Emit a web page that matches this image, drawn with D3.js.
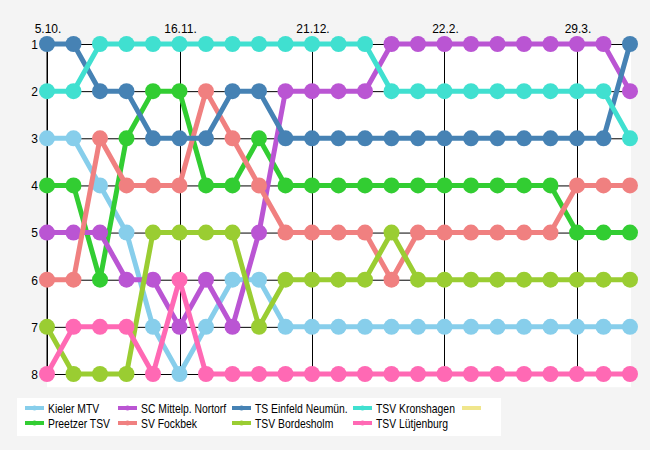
<!DOCTYPE html>
<html>
<head>
<meta charset="utf-8">
<script src="https://cdn.jsdelivr.net/npm/d3@7"></script>
<style>
  body { margin: 0; background: #f4f4f4; }
  svg { display: block; font-family: Arial, "Liberation Sans", sans-serif; }
</style>
</head>
<body>
<div id="chart-area"></div>
<script>
// rank tables, one value per round (23 rounds)
const teams = ['Kieler MTV', 'Preetzer TSV', 'SC Mittelp. Nortorf', 'SV Fockbek',
    'TS Einfeld Neumün.', 'TSV Bordesholm', 'TSV Kronshagen', 'TSV Lütjenburg', '']
const kielerMTV   = [3,3,4,5,7,8,7,6,6,7,7,7,7,7,7,7,7,7,7,7,7,7,7]
const preetzerTSV = [4,4,6,3,2,2,4,4,3,4,4,4,4,4,4,4,4,4,4,4,5,5,5]
const scNortorf   = [5,5,5,6,6,7,6,7,5,2,2,2,2,1,1,1,1,1,1,1,1,1,2]
const svFockbek   = [6,6,3,4,4,4,2,3,4,5,5,5,5,6,5,5,5,5,5,5,4,4,4]
const tsEinfeld   = [1,1,2,2,3,3,3,2,2,3,3,3,3,3,3,3,3,3,3,3,3,3,1]
const tsvBordesholm = [7,8,8,8,5,5,5,5,7,6,6,6,6,5,6,6,6,6,6,6,6,6,6]
const tsvKronshagen = [2,2,1,1,1,1,1,1,1,1,1,1,1,2,2,2,2,2,2,2,2,2,3]
const tsvLuetjenburg = [8,7,7,7,8,6,8,8,8,8,8,8,8,8,8,8,8,8,8,8,8,8,8]
const emptySeries = []
const ranks = [1,2,3,4,5,6,7,8]
const tickRounds = [0, 5, 10, 15, 20]
const tickLabels = ['5.10.', '16.11.', '21.12.', '22.2.', '29.3.']

const colors = ['#87CEEB', '#32CD32', '#BA55D3', '#F08080', '#4682B4',
    '#9ACD32', '#40E0D0', '#FF69B4', '#F0E68C']
const series = [kielerMTV, preetzerTSV, scNortorf, svFockbek, tsEinfeld,
    tsvBordesholm, tsvKronshagen, tsvLuetjenburg, emptySeries]

const canvas = { width: 650, height: 450 }
const plot = { left: 47, right: 630, top: 44, bottom: 374 }

let svg = d3.select('#chart-area')
    .append('svg')
    .attr('width', canvas.width)
    .attr('height', canvas.height)

svg.append('rect')
    .attr('width', canvas.width).attr('height', canvas.height)
    .attr('fill', '#f4f4f4')

let x = d3.scaleLinear()
    .domain([0, kielerMTV.length - 1])
    .range([plot.left, plot.right])

let y = d3.scaleLinear()
    .domain([1, 8])
    .range([plot.top, plot.bottom])

// white plot area
svg.append('rect')
    .attr('x', plot.left).attr('y', plot.top)
    .attr('width', plot.right + 1 - plot.left)
    .attr('height', y(8.28) - plot.top)
    .attr('fill', '#ffffff')

// grid
svg.append('g').selectAll('line')
    .data(ranks).enter().append('line')
    .attr('x1', plot.left).attr('x2', plot.right)
    .attr('y1', d => y(d) + 0.5).attr('y2', d => y(d) + 0.5)
    .attr('stroke', '#000').attr('stroke-width', 1)

svg.append('g').selectAll('line')
    .data(tickRounds).enter().append('line')
    .attr('x1', d => Math.round(x(d)) + 0.5).attr('x2', d => Math.round(x(d)) + 0.5)
    .attr('y1', plot.top).attr('y2', plot.bottom)
    .attr('stroke', '#000').attr('stroke-width', 1)

// axes
let xAxis = d3.axisTop(x)
    .tickValues(tickRounds)
    .tickFormat((d, i) => tickLabels[i])
    .tickSize(4).tickPadding(7)
let gx = svg.append('g')
    .attr('transform', `translate(0.5, ${plot.top})`)
    .call(xAxis)
gx.select('.domain').remove()

let yAxis = d3.axisLeft(y)
    .tickValues(ranks)
    .tickFormat(d3.format('d'))
    .tickSize(7).tickPadding(2)
let gy = svg.append('g')
    .attr('transform', `translate(${plot.left}, 0.5)`)
    .call(yAxis)
gy.select('.domain').attr('d', `M0,${plot.top - 0.5}V${plot.bottom}`)

svg.selectAll('.tick text')
    .attr('font-size', 12)
    .attr('font-family', 'Arial, "Liberation Sans", sans-serif')
    .attr('fill', '#000')
svg.selectAll('.tick line, .domain').attr('stroke', '#000')

// lines + markers
let line = d3.line()
    .x((d, i) => x(i))
    .y(d => y(d))

series.forEach((s, k) => {
    if (!s.length) return
    let g = svg.append('g')
    g.append('path')
        .datum(s)
        .attr('d', line)
        .attr('fill', 'none')
        .attr('stroke', colors[k])
        .attr('stroke-width', 5)
    g.selectAll('circle')
        .data(s).enter().append('circle')
        .attr('cx', (d, i) => x(i))
        .attr('cy', d => y(d))
        .attr('r', 8)
        .attr('fill', colors[k])
})

// legend
let legend = svg.append('g')
legend.append('rect')
    .attr('x', 17).attr('y', 398)
    .attr('width', 484).attr('height', 38)
    .attr('fill', '#ffffff')

const legendCols = [25, 118, 232, 353, 462]
teams.forEach((name, k) => {
    let col = Math.floor(k / 2), row = k % 2
    let lx = legendCols[col], ly = 408 + row * 15
    legend.append('line')
        .attr('x1', lx).attr('x2', lx + 19)
        .attr('y1', ly).attr('y2', ly)
        .attr('stroke', colors[k]).attr('stroke-width', 4)
    if (series[k].length) {
        legend.append('circle')
            .attr('cx', lx + 9.5).attr('cy', ly)
            .attr('r', 2.5).attr('fill', colors[k])
    }
    // narrow-looking label: squeeze horizontally
    legend.append('text')
        .attr('transform', `translate(${lx + 23}, ${ly + 5}) scale(0.83, 1)`)
        .attr('font-size', 12.5)
        .attr('fill', '#000')
        .text(name)
})
</script>
</body>
</html>
